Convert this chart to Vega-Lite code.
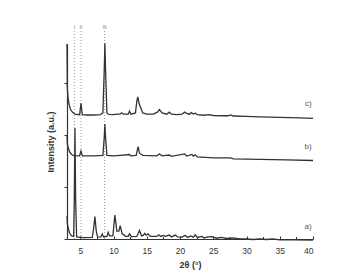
{
  "$schema": "https://vega.github.io/schema/vega-lite/v6.json",
  "width": 246,
  "height": 195,
  "autosize": "none",
  "padding": {"left": 67, "top": 44, "right": 28, "bottom": 34},
  "background": "white",
  "config": {"view": {"stroke": null}, "font": "Liberation Sans"},
  "resolve": {"axis": {"x": "independent"}},
  "datasets": {
    "xrd": [
      {"s":"c","x":3.0,"y":7.5},{"s":"c","x":3.05,"y":5.8},{"s":"c","x":3.15,"y":5.45},{"s":"c","x":3.3,"y":5.2},{"s":"c","x":3.5,"y":5.0},{"s":"c","x":3.8,"y":4.88},{"s":"c","x":4.2,"y":4.8},{"s":"c","x":4.9,"y":4.78},{"s":"c","x":5.1,"y":5.22},{"s":"c","x":5.3,"y":4.78},{"s":"c","x":6.0,"y":4.77},{"s":"c","x":7.0,"y":4.77},{"s":"c","x":8.0,"y":4.78},{"s":"c","x":8.4,"y":4.85},{"s":"c","x":8.6,"y":6.5},{"s":"c","x":8.7,"y":7.53},{"s":"c","x":8.8,"y":6.5},{"s":"c","x":9.0,"y":4.85},{"s":"c","x":9.3,"y":4.79},{"s":"c","x":10.0,"y":4.78},{"s":"c","x":10.5,"y":4.8},{"s":"c","x":11.0,"y":4.8},{"s":"c","x":11.2,"y":4.85},{"s":"c","x":11.5,"y":4.8},{"s":"c","x":12.2,"y":4.8},{"s":"c","x":12.4,"y":4.92},{"s":"c","x":12.6,"y":4.8},{"s":"c","x":13.3,"y":4.85},{"s":"c","x":13.5,"y":5.3},{"s":"c","x":13.65,"y":5.47},{"s":"c","x":13.85,"y":5.2},{"s":"c","x":14.1,"y":5.04},{"s":"c","x":14.4,"y":4.85},{"s":"c","x":15.0,"y":4.8},{"s":"c","x":16.0,"y":4.8},{"s":"c","x":16.6,"y":4.88},{"s":"c","x":16.9,"y":4.98},{"s":"c","x":17.3,"y":4.85},{"s":"c","x":18.0,"y":4.8},{"s":"c","x":18.4,"y":4.88},{"s":"c","x":18.7,"y":4.8},{"s":"c","x":19.5,"y":4.78},{"s":"c","x":20.3,"y":4.8},{"s":"c","x":20.7,"y":4.88},{"s":"c","x":21.0,"y":4.83},{"s":"c","x":21.4,"y":4.8},{"s":"c","x":21.7,"y":4.86},{"s":"c","x":22.0,"y":4.81},{"s":"c","x":22.3,"y":4.84},{"s":"c","x":22.6,"y":4.78},{"s":"c","x":23.5,"y":4.76},{"s":"c","x":24.3,"y":4.78},{"s":"c","x":25.0,"y":4.75},{"s":"c","x":26.5,"y":4.74},{"s":"c","x":27.2,"y":4.74},{"s":"c","x":27.6,"y":4.77},{"s":"c","x":28.0,"y":4.73},{"s":"c","x":30,"y":4.72},{"s":"c","x":32,"y":4.7},{"s":"c","x":35,"y":4.68},{"s":"c","x":38,"y":4.66},{"s":"c","x":40,"y":4.64},
      {"s":"b","x":3.0,"y":4.0},{"s":"b","x":3.05,"y":3.65},{"s":"b","x":3.2,"y":3.5},{"s":"b","x":3.4,"y":3.35},{"s":"b","x":3.7,"y":3.25},{"s":"b","x":4.0,"y":3.21},{"s":"b","x":4.9,"y":3.2},{"s":"b","x":5.1,"y":3.38},{"s":"b","x":5.3,"y":3.2},{"s":"b","x":7.0,"y":3.2},{"s":"b","x":8.4,"y":3.22},{"s":"b","x":8.6,"y":3.9},{"s":"b","x":8.7,"y":4.42},{"s":"b","x":8.8,"y":3.9},{"s":"b","x":9.0,"y":3.22},{"s":"b","x":10,"y":3.2},{"s":"b","x":11.0,"y":3.22},{"s":"b","x":12.4,"y":3.25},{"s":"b","x":12.6,"y":3.2},{"s":"b","x":13.4,"y":3.22},{"s":"b","x":13.6,"y":3.45},{"s":"b","x":13.7,"y":3.55},{"s":"b","x":13.9,"y":3.3},{"s":"b","x":14.1,"y":3.27},{"s":"b","x":14.4,"y":3.22},{"s":"b","x":16.5,"y":3.2},{"s":"b","x":16.9,"y":3.27},{"s":"b","x":17.3,"y":3.2},{"s":"b","x":18.4,"y":3.23},{"s":"b","x":18.7,"y":3.18},{"s":"b","x":20.7,"y":3.27},{"s":"b","x":21.0,"y":3.19},{"s":"b","x":21.8,"y":3.25},{"s":"b","x":22.0,"y":3.19},{"s":"b","x":22.3,"y":3.24},{"s":"b","x":22.6,"y":3.16},{"s":"b","x":25,"y":3.12},{"s":"b","x":27.6,"y":3.12},{"s":"b","x":28,"y":3.08},{"s":"b","x":32,"y":3.06},{"s":"b","x":36,"y":3.04},{"s":"b","x":40,"y":3.02},
      {"s":"a","x":3.0,"y":0.88},{"s":"a","x":3.05,"y":0.6},{"s":"a","x":3.2,"y":0.4},{"s":"a","x":3.4,"y":0.22},{"s":"a","x":3.7,"y":0.12},{"s":"a","x":4.0,"y":0.1},{"s":"a","x":4.1,"y":1.5},{"s":"a","x":4.2,"y":4.27},{"s":"a","x":4.3,"y":1.5},{"s":"a","x":4.45,"y":0.08},{"s":"a","x":5.5,"y":0.05},{"s":"a","x":6.8,"y":0.06},{"s":"a","x":7.0,"y":0.4},{"s":"a","x":7.2,"y":0.86},{"s":"a","x":7.4,"y":0.3},{"s":"a","x":7.6,"y":0.07},{"s":"a","x":8.1,"y":0.08},{"s":"a","x":8.3,"y":0.2},{"s":"a","x":8.5,"y":0.08},{"s":"a","x":9.0,"y":0.1},{"s":"a","x":9.2,"y":0.26},{"s":"a","x":9.4,"y":0.12},{"s":"a","x":9.9,"y":0.12},{"s":"a","x":10.2,"y":0.92},{"s":"a","x":10.5,"y":0.3},{"s":"a","x":10.8,"y":0.3},{"s":"a","x":11.0,"y":0.51},{"s":"a","x":11.3,"y":0.2},{"s":"a","x":11.6,"y":0.15},{"s":"a","x":11.8,"y":0.1},{"s":"a","x":12.2,"y":0.1},{"s":"a","x":12.4,"y":0.2},{"s":"a","x":12.7,"y":0.09},{"s":"a","x":13.5,"y":0.1},{"s":"a","x":13.9,"y":0.33},{"s":"a","x":14.2,"y":0.12},{"s":"a","x":14.5,"y":0.15},{"s":"a","x":14.7,"y":0.22},{"s":"a","x":14.9,"y":0.15},{"s":"a","x":15.2,"y":0.2},{"s":"a","x":15.5,"y":0.1},{"s":"a","x":16.5,"y":0.1},{"s":"a","x":16.8,"y":0.16},{"s":"a","x":17.1,"y":0.1},{"s":"a","x":17.5,"y":0.14},{"s":"a","x":17.8,"y":0.1},{"s":"a","x":18.4,"y":0.15},{"s":"a","x":18.7,"y":0.08},{"s":"a","x":19.3,"y":0.15},{"s":"a","x":19.6,"y":0.08},{"s":"a","x":20.3,"y":0.07},{"s":"a","x":20.8,"y":0.14},{"s":"a","x":21.1,"y":0.06},{"s":"a","x":21.6,"y":0.12},{"s":"a","x":22.0,"y":0.07},{"s":"a","x":22.3,"y":0.16},{"s":"a","x":22.6,"y":0.06},{"s":"a","x":23.3,"y":0.1},{"s":"a","x":23.6,"y":0.04},{"s":"a","x":24.2,"y":0.08},{"s":"a","x":24.8,"y":0.09},{"s":"a","x":25.5,"y":0.03},{"s":"a","x":26.2,"y":0.06},{"s":"a","x":27,"y":0.02},{"s":"a","x":28,"y":0.04},{"s":"a","x":29,"y":0.0},{"s":"a","x":30,"y":0.0},{"s":"a","x":31,"y":-0.02},{"s":"a","x":32,"y":0.0},{"s":"a","x":33,"y":-0.02},{"s":"a","x":34,"y":0.0},{"s":"a","x":35,"y":-0.03},{"s":"a","x":37,"y":-0.03},{"s":"a","x":40,"y":-0.04}
    ],
    "guides": [
      {"x": 4.1, "label": "I"},
      {"x": 5.1, "label": "II"},
      {"x": 8.65, "label": "III"}
    ],
    "names": [
      {"x": 39.8, "y": 5.19, "label": "c)"},
      {"x": 39.8, "y": 3.54, "label": "b)"},
      {"x": 39.8, "y": 0.46, "label": "a)"}
    ]
  },
  "layer": [
    {
      "data": {"name": "guides"},
      "mark": {"type": "rule", "color": "#999999", "strokeDash": [1, 2], "strokeWidth": 1, "clip": false},
      "encoding": {
        "x": {
          "field": "x", "type": "quantitative",
          "scale": {"domain": [3, 40], "nice": false, "zero": false},
          "axis": {
            "orient": "bottom", "title": null, "labels": false, "domain": false, "grid": false,
            "values": [7.5, 12.5, 17.5, 22.5, 27.5, 32.5, 37.5],
            "tickSize": -2.5, "tickColor": "#333333"
          }
        },
        "y": {"datum": 0},
        "y2": {"datum": 8.0}
      }
    },
    {
      "data": {"name": "guides"},
      "mark": {"type": "text", "fontSize": 5, "color": "#777777", "baseline": "middle", "clip": false},
      "encoding": {
        "x": {"field": "x", "type": "quantitative", "axis": null},
        "y": {"datum": 8.17},
        "text": {"field": "label"}
      }
    },
    {
      "data": {"name": "xrd"},
      "mark": {"type": "line", "color": "#333333", "strokeWidth": 1.3, "clip": false},
      "encoding": {
        "x": {
          "field": "x", "type": "quantitative",
          "axis": {
            "orient": "bottom",
            "title": "2θ (°)",
            "titleFontSize": 9, "titleFontWeight": "bold", "titleColor": "#333333", "titlePadding": 6,
            "values": [5, 10, 15, 20, 25, 30, 35, 40],
            "labelOverlap": false,
            "labelFontSize": 8.5, "labelColor": "#333333", "labelPadding": 10,
            "tickSize": -3, "tickColor": "#333333", "domainColor": "#333333", "domainWidth": 1.2, "grid": false
          }
        },
        "y": {
          "field": "y", "type": "quantitative",
          "scale": {"domain": [0, 7.5], "nice": false, "zero": false},
          "axis": {
            "title": "Intensity (a.u.)",
            "titleFontSize": 9, "titleFontWeight": "bold", "titleColor": "#333333", "titlePadding": 8,
            "values": [0, 1, 2, 3, 4, 5, 6, 7],
            "labels": false, "tickSize": 3, "tickColor": "#333333", "domainColor": "#333333", "domainWidth": 1.2, "grid": false
          }
        },
        "detail": {"field": "s"}
      }
    },
    {
      "data": {"name": "names"},
      "mark": {"type": "text", "fontSize": 8, "color": "#555555", "align": "right", "baseline": "middle"},
      "encoding": {
        "x": {"field": "x", "type": "quantitative", "axis": null},
        "y": {"field": "y", "type": "quantitative"},
        "text": {"field": "label"}
      }
    }
  ]
}
